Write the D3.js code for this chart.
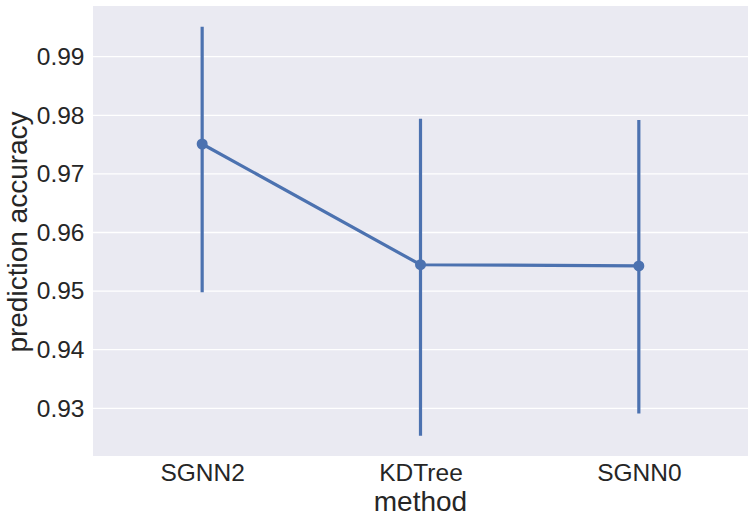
<!DOCTYPE html>
<html>
<head>
<meta charset="utf-8">
<script src="https://cdn.jsdelivr.net/npm/d3@7"></script>
<style>
  body { margin: 0; background: #fff; }
  text { font-family: Arial, "Liberation Sans", sans-serif; fill: #262626; }
</style>
</head>
<body>
<script>
// data
var methods = ['SGNN2', 'KDTree', 'SGNN0'];
var means = [0.9751, 0.9545, 0.9543];
var ciLow = [0.9498, 0.9253, 0.9291];
var ciHigh = [0.9951, 0.9794, 0.9792];
var yTicks = [0.93, 0.94, 0.95, 0.96, 0.97, 0.98, 0.99];

var svgWidth = 752;
var svgHeight = 523;

var margin = { top: 6, bottom: 67, left: 93, right: 4 };

var chartWidth = svgWidth - margin.left - margin.right;
var chartHeight = svgHeight - margin.top - margin.bottom;

var svg = d3.select('body')
    .append('svg')
    .attr('width', svgWidth)
    .attr('height', svgHeight);

var chartGroup = svg.append('g')
    .attr('transform', `translate(${margin.left},${margin.top})`);

// background
chartGroup.append('rect')
    .attr('width', chartWidth)
    .attr('height', chartHeight)
    .attr('fill', '#EAEAF2');

// scales
var xScale = d3.scalePoint()
    .domain(methods)
    .range([0, chartWidth])
    .padding(0.5);

var yScale = d3.scaleLinear()
    .domain([0.92186, 0.99865])
    .range([chartHeight, 0]);

// grid
chartGroup.append('g')
    .selectAll('line')
    .data(yTicks)
    .enter()
    .append('line')
    .attr('x1', 0)
    .attr('x2', chartWidth)
    .attr('y1', d => yScale(d))
    .attr('y2', d => yScale(d))
    .attr('stroke', '#fff')
    .attr('stroke-width', 1.3);

// axes (no domain line, no ticks)
var yAxis = d3.axisLeft(yScale)
    .tickValues(yTicks)
    .tickFormat(d3.format('.2f'))
    .tickSize(0)
    .tickPadding(8.5);

var xAxis = d3.axisBottom(xScale)
    .tickSize(0)
    .tickPadding(8);

var yG = chartGroup.append('g').call(yAxis);
yG.select('.domain').remove();
yG.selectAll('text')
    .attr('font-size', '24.5px')
    .attr('font-family', 'Arial, "Liberation Sans", sans-serif')
    .attr('fill', '#262626');

var xG = chartGroup.append('g')
    .attr('transform', `translate(0,${chartHeight})`)
    .call(xAxis);
xG.select('.domain').remove();
xG.selectAll('text')
    .attr('font-size', '24.5px')
    .attr('font-family', 'Arial, "Liberation Sans", sans-serif')
    .attr('fill', '#262626');

var blue = '#4C72B0';

// error bars
chartGroup.selectAll('.ci')
    .data(methods)
    .enter()
    .append('line')
    .attr('class', 'ci')
    .attr('x1', d => xScale(d))
    .attr('x2', d => xScale(d))
    .attr('y1', (d, i) => yScale(ciLow[i]))
    .attr('y2', (d, i) => yScale(ciHigh[i]))
    .attr('stroke', blue)
    .attr('stroke-width', 3.2);

// line through means
var line = d3.line()
    .x((d, i) => xScale(methods[i]))
    .y(d => yScale(d));

chartGroup.append('path')
    .datum(means)
    .attr('d', line)
    .attr('fill', 'none')
    .attr('stroke', blue)
    .attr('stroke-width', 3.2);

// points
chartGroup.selectAll('.pt')
    .data(means)
    .enter()
    .append('circle')
    .attr('class', 'pt')
    .attr('cx', (d, i) => xScale(methods[i]))
    .attr('cy', d => yScale(d))
    .attr('r', 5.5)
    .attr('fill', blue);

// axis labels
svg.append('text')
    .attr('x', margin.left + chartWidth / 2)
    .attr('y', 511)
    .attr('text-anchor', 'middle')
    .attr('font-size', '28px')
    .text('method');

svg.append('text')
    .attr('transform', 'translate(27,232) rotate(-90)')
    .attr('text-anchor', 'middle')
    .attr('font-size', '28px')
    .text('prediction accuracy');
</script>
</body>
</html>
